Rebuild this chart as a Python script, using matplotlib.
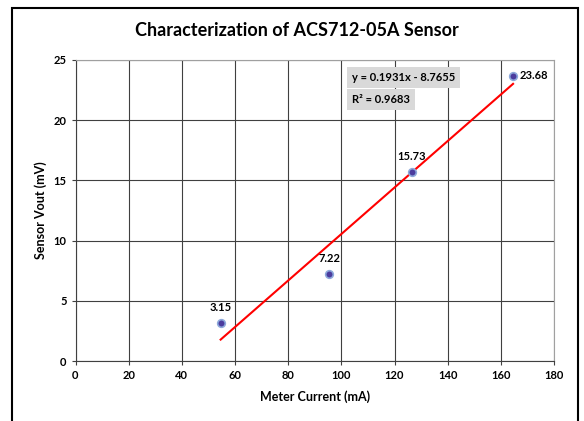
import numpy as np
import matplotlib.pyplot as plt
from matplotlib.patches import Rectangle

# data
current_ma = [54.6, 95.5, 126.6, 164.6]
vout_mv = [3.15, 7.22, 15.73, 23.68]
point_labels = ["3.15", "7.22", "15.73", "23.68"]
slope = 0.1931
intercept = -8.7655
r_squared = 0.9683
x_ticks = list(range(0, 181, 20))
y_ticks = list(range(0, 26, 5))

plt.rcParams['font.family'] = ['Lato', 'DejaVu Sans']

fig = plt.figure(figsize=(5.84, 4.21), dpi=100)
fig.patch.set_facecolor('white')
# outer chart frame
fig.patches.append(Rectangle((12 / 584, -0.05), 566 / 584, 1.05 - 8 / 421,
                             transform=fig.transFigure, fill=False,
                             edgecolor='black', linewidth=1.5))

ax = fig.add_axes([75.5 / 584, 60 / 421, 478.5 / 584, 301 / 421])

# trendline over data range
xs = np.array([min(current_ma), max(current_ma)])
ax.plot(xs, slope * xs + intercept, color='#FF0000', linewidth=1.5, zorder=3)

ax.scatter(current_ma, vout_mv, s=30, color='#4B3C9E', edgecolors='#8DA9DB',
           linewidths=1.2, zorder=4)

for x, y, lab in zip(current_ma, vout_mv, point_labels):
    if lab == "23.68":
        ax.annotate(lab, (x, y), xytext=(5, 0), textcoords='offset points',
                    ha='left', va='center', fontsize=8, fontweight='bold')
    else:
        ax.annotate(lab, (x, y), xytext=(0, 7), textcoords='offset points',
                    ha='center', va='bottom', fontsize=8, fontweight='bold')

ax.text(104, 23.55, f"y = {slope}x - {-intercept}", fontsize=8, fontweight='bold',
        ha='left', va='center',
        bbox=dict(facecolor='#D9D9D9', edgecolor='none', pad=3.5))
ax.text(104, 21.7, f"R² = {r_squared}", fontsize=8, fontweight='bold',
        ha='left', va='center',
        bbox=dict(facecolor='#D9D9D9', edgecolor='none', pad=3.5))

ax.set_xlim(0, 180)
ax.set_ylim(0, 25)
ax.set_xticks(x_ticks)
ax.set_yticks(y_ticks)
ax.grid(True, color='#404040', linewidth=0.8)
ax.set_axisbelow(True)
for side in ['top', 'right']:
    ax.spines[side].set_color('#A0A0A0')
for side in ['left', 'bottom']:
    ax.spines[side].set_color('#404040')
ax.tick_params(axis='both', length=3, width=0.8, labelsize=8, color='#404040')
for lbl in ax.get_xticklabels() + ax.get_yticklabels():
    lbl.set_fontweight('bold')

ax.set_xlabel("Meter Current (mA)", fontsize=9, fontweight='bold', labelpad=7)
ax.set_ylabel("Sensor Vout (mV)", fontsize=9, fontweight='bold', labelpad=5)
fig.text(297 / 584, 1 - 30 / 421, "Characterization of ACS712-05A Sensor",
         ha='center', va='center', fontsize=13, fontweight='bold')

fig.savefig("out.png", dpi=100)
